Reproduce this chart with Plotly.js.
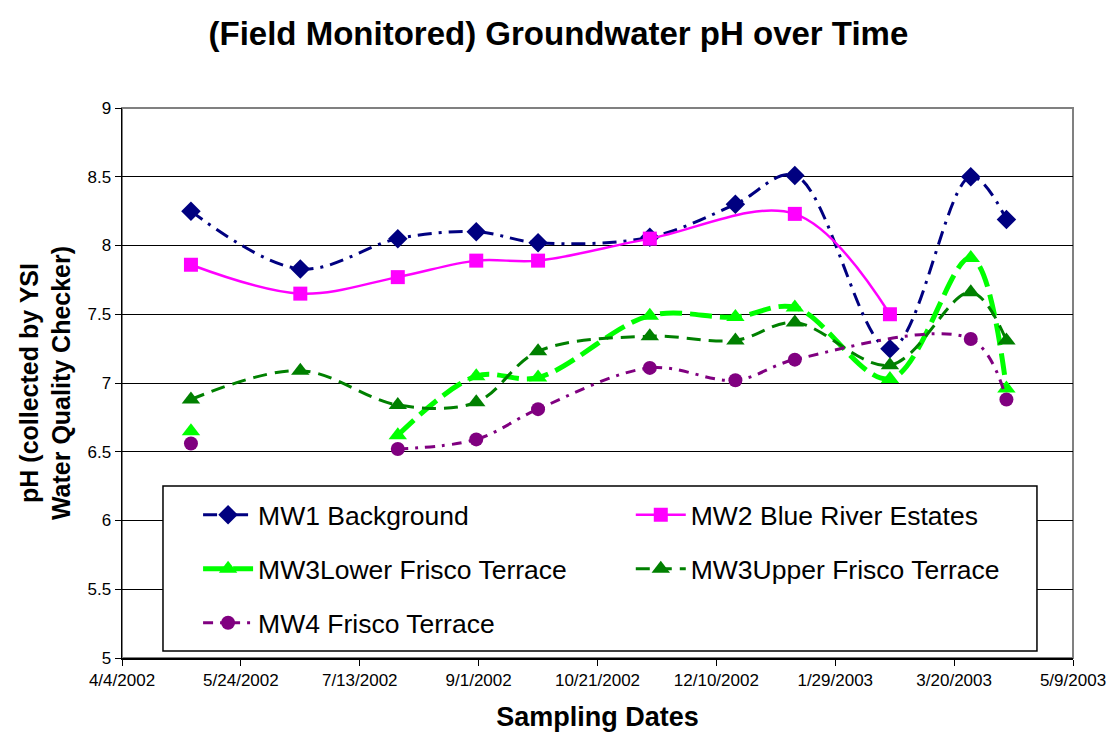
<!DOCTYPE html>
<html>
<head>
<meta charset="utf-8">
<script src="https://cdn.plot.ly/plotly-3.0.1.min.js"></script>
<style>html,body{margin:0;padding:0;background:#fff;}#chart{width:1108px;height:733px;}</style>
</head>
<body>
<div id="chart"></div>
<script>
// Sampling dates
const dates = ['2002-05-03','2002-06-18','2002-07-29','2002-08-31','2002-09-26','2002-11-12','2002-12-18','2003-01-12','2003-02-21','2003-03-27','2003-04-11'];
// MW4 was not sampled on 2/21/2003 (line runs straight through)
const mw4Dates = ['2002-05-03','2002-06-18','2002-07-29','2002-08-31','2002-09-26','2002-11-12','2002-12-18','2003-01-12','2003-03-27','2003-04-11'];

const mw1 = [8.25, 7.83, 8.05, 8.10, 8.02, 8.06, 8.30, 8.51, 7.25, 8.50, 8.19];
const mw2 = [7.86, 7.65, 7.77, 7.89, 7.89, 8.05, null, 8.23, 7.50, null, null];
const mw3Lower = [6.65, null, 6.62, 7.05, 7.04, 7.49, 7.48, 7.55, 7.03, 7.91, 6.96];
const mw3Upper = [6.88, 7.09, 6.84, 6.86, 7.23, 7.34, 7.31, 7.44, 7.13, 7.66, 7.31];
const mw4 = [6.56, null, 6.52, 6.59, 6.81, 7.11, 7.02, 7.17, 7.32, 6.88];

const seriesNames = ['MW1 Background','MW2 Blue River Estates','MW3Lower Frisco Terrace','MW3Upper Frisco Terrace','MW4 Frisco Terrace'];

const xTickVals = ['2002-04-04','2002-05-24','2002-07-13','2002-09-01','2002-10-21','2002-12-10','2003-01-29','2003-03-20','2003-05-09'];
const xTickText = ['4/4/2002','5/24/2002','7/13/2002','9/1/2002','10/21/2002','12/10/2002','1/29/2003','3/20/2003','5/9/2003'];

const traces = [
  {x: dates, y: mw1, name: seriesNames[0], type: 'scatter', mode: 'lines+markers', showlegend: true,
   line: {color: '#000080', width: 3, dash: '14px,7px,3px,7px', shape: 'spline'},
   marker: {symbol: 'diamond', size: 15, color: '#000080'}, legend: 'legend'},
  {x: dates, y: mw2, name: seriesNames[1], type: 'scatter', mode: 'lines+markers', connectgaps: true, showlegend: true,
   line: {color: '#FF00FF', width: 2.5, shape: 'spline'},
   marker: {symbol: 'square', size: 14, color: '#FF00FF'}, legend: 'legend2'},
  {x: dates, y: mw3Lower, name: seriesNames[2], type: 'scatter', mode: 'lines+markers', showlegend: true,
   line: {color: '#00FF00', width: 5, dash: '22px,8px', shape: 'spline'},
   marker: {symbol: 'triangle-up', size: 16, color: '#00FF00'}, legend: 'legend3'},
  {x: dates, y: mw3Upper, name: seriesNames[3], type: 'scatter', mode: 'lines+markers', showlegend: true,
   line: {color: '#008000', width: 3, dash: '14px,8px', shape: 'spline'},
   marker: {symbol: 'triangle-up', size: 16, color: '#008000'}, legend: 'legend4'},
  {x: mw4Dates, y: mw4, name: seriesNames[4], type: 'scatter', mode: 'lines+markers', showlegend: true,
   line: {color: '#800080', width: 3, dash: '10px,7px,3px,7px', shape: 'spline'},
   marker: {symbol: 'circle', size: 14, color: '#800080'}, legend: 'legend5'}
];

const legFont = {family: 'Arial, Liberation Sans, sans-serif', size: 26.5, color: '#000'};
function leg(x, y) {
  return {x: x, y: y, xanchor: 'left', yanchor: 'middle', xref: 'paper', yref: 'paper', visible: true,
          bgcolor: 'rgba(0,0,0,0)', borderwidth: 0, font: legFont, itemwidth: 50};
}

const layout = {
  width: 1108, height: 733,
  showlegend: true,
  margin: {l: 122, r: 35, t: 108, b: 75},
  paper_bgcolor: '#fff', plot_bgcolor: '#fff',
  font: {family: 'Arial, Liberation Sans, sans-serif', color: '#000'},
  title: {text: '<b>(Field Monitored) Groundwater pH over Time</b>', font: {size: 33, color: '#000'},
          xref: 'container', x: 0.504, xanchor: 'center', yref: 'container', y: 0.955, yanchor: 'middle'},
  xaxis: {type: 'date', range: ['2002-04-04', '2003-05-09'], tickmode: 'array', tickvals: xTickVals, ticktext: xTickText,
          showgrid: false, zeroline: false, showline: true, linecolor: '#000', linewidth: 1.5,
          ticks: 'outside', ticklen: 6, tickcolor: '#000', tickfont: {size: 17, color: '#000'},
          title: {text: '<b>Sampling Dates</b>', font: {size: 27, color: '#000'}, standoff: 18}},
  yaxis: {range: [5, 9], dtick: 0.5, tick0: 5, showgrid: true, gridcolor: '#000', gridwidth: 1,
          zeroline: false, showline: true, linecolor: '#000', linewidth: 1.5,
          ticks: 'outside', ticklen: 6, tickcolor: '#000', tickfont: {size: 17, color: '#000'},
          title: {text: '<b>pH (collected by YSI<br>Water Quality Checker)</b>', font: {size: 25, color: '#000'}, standoff: 9}},
  shapes: [
    {type: 'rect', xref: 'paper', yref: 'paper', x0: 0, x1: 1, y0: 0, y1: 1, line: {color: '#808080', width: 2}, layer: 'below'},
    {type: 'rect', xref: 'paper', yref: 'paper', x0: 0.0431, x1: 0.9621, y0: 0.0127, y1: 0.3127,
     line: {color: '#000', width: 1.5}, fillcolor: '#fff', layer: 'above'}
  ],
  legend: leg(0.080, 0.26),
  legend2: leg(0.535, 0.26),
  legend3: leg(0.080, 0.1618),
  legend4: leg(0.535, 0.1618),
  legend5: leg(0.080, 0.0636)
};

Plotly.newPlot('chart', traces, layout, {staticPlot: true, displayModeBar: false});
</script>
</body>
</html>
